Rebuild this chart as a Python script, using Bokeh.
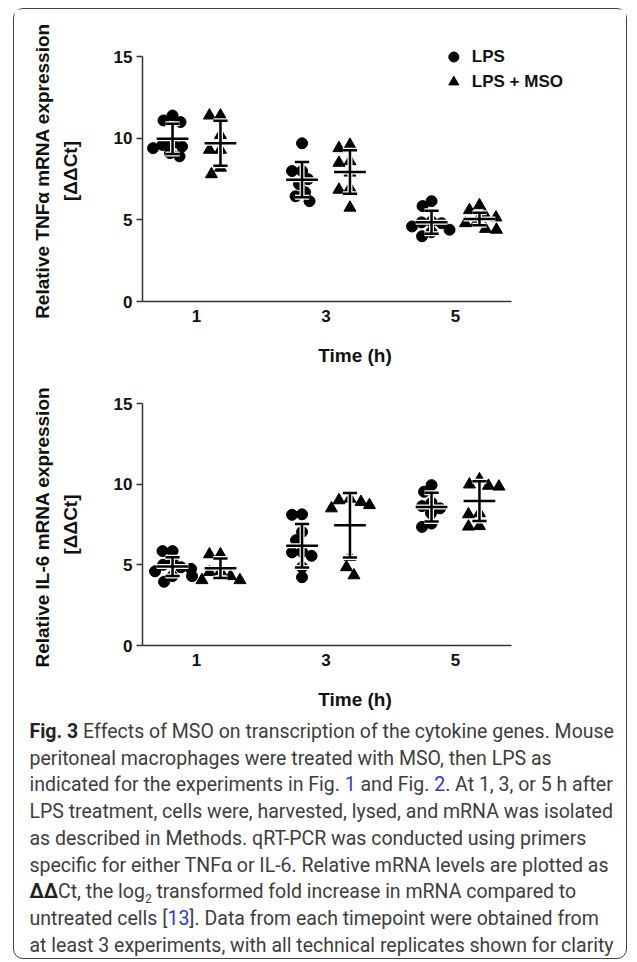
import numpy as np
from bokeh.plotting import figure
from bokeh.models import (ColumnDataSource, Legend, LegendItem, Title, FixedTicker,
                          Div, Range1d)
from bokeh.layouts import column
from bokeh.embed import file_html
from bokeh.resources import INLINE

# ---------------- data ----------------
times = [1, 3, 5]
tick_labels = ["1", "3", "5"]
group_names = ["LPS", "LPS + MSO"]

tnf_lps_1h = [11.1, 11.0, 11.4, 9.6, 9.4, 9.7, 8.9, 9.1, 9.5]
tnf_lps_3h = [9.7, 8.0, 8.0, 7.5, 7.2, 6.7, 6.45, 6.15]
tnf_lps_5h = [6.15, 5.85, 4.8, 4.85, 4.4, 4.0, 4.25, 4.6, 4.9]
tnf_mso_1h = [11.4, 11.4, 10.2, 9.3, 9.3, 7.8, 8.2]
tnf_mso_3h = [9.6, 9.4, 8.6, 8.5, 7.9, 6.95, 6.85, 5.75]
tnf_mso_5h = [5.6, 5.9, 4.8, 4.85, 4.4, 4.45, 5.3, 5.15]

tnf_lps_mean = [9.97, 7.47, 4.86]
tnf_lps_sd = [0.93, 1.08, 0.71]
tnf_mso_mean = [9.70, 7.94, 5.06]
tnf_mso_sd = [1.38, 1.33, 0.38]

il6_lps_1h = [5.85, 5.85, 5.2, 4.85, 4.75, 4.3, 4.3, 3.95, 4.6, 5.0]
il6_lps_3h = [8.13, 8.1, 7.04, 6.53, 5.77, 5.8, 5.56, 4.85, 4.23]
il6_lps_5h = [9.53, 9.94, 8.85, 8.64, 8.5, 7.35, 7.56, 8.2]
il6_mso_1h = [5.65, 5.65, 4.6, 4.55, 4.3, 4.05, 4.05]
il6_mso_3h = [8.9, 9.1, 8.5, 8.7, 9.0, 5.5, 4.85, 4.35]
il6_mso_5h = [9.98, 10.3, 9.85, 8.13, 8.2, 7.37, 7.4, 9.9]

il6_lps_mean = [4.89, 6.18, 8.58]
il6_lps_sd = [0.58, 1.35, 0.89]
il6_mso_mean = [4.79, 7.45, 8.95]
il6_mso_sd = [0.60, 2.00, 1.23]

y_ticks = [0, 5, 10, 15]

# ---------------- layout constants ----------------
FIG_W = 612
LEFT = 128
FRAME_W = 425
XPU = 64.75            # pixels per x unit
X0 = 0.166
X_AXIS_END = 5.865
X_END = X0 + FRAME_W / XPU
OFFSET = 0.37          # group offset from the time tick
FONT = "Liberation Sans"
TXT = "#111111"


def swarm(vals, ypu, diam):
    """deterministic beeswarm offsets (in x data units)"""
    vals = np.asarray(vals, dtype=float)
    order = np.argsort(-vals, kind="stable")
    placed = []
    offs = np.zeros(len(vals))
    cands = [0.0]
    for k in range(1, 40):
        cands += [-0.5 * k, 0.5 * k]
    for i in order:
        y = vals[i] * ypu
        for c in cands:
            if all((c - px) ** 2 + (y - py) ** 2 >= diam ** 2 for px, py in placed):
                break
        placed.append((c, y))
        offs[i] = c
    return offs / XPU


def make_fig(height, top, bottom, y_end, lps_sets, mso_sets, lps_mean, lps_sd,
             mso_mean, mso_sd, ylabel_outer, with_legend):
    frame_h = height - top - bottom
    ypu = frame_h / y_end
    p = figure(width=FIG_W, height=height, x_range=Range1d(X0, X_END),
               y_range=Range1d(0, y_end), min_border_left=LEFT,
               min_border_right=FIG_W - LEFT - FRAME_W, min_border_top=top,
               min_border_bottom=bottom, output_backend="svg",
               toolbar_location=None)
    p.outline_line_color = None
    p.xgrid.visible = False
    p.ygrid.visible = False
    p.background_fill_color = "white"

    renderers = []
    for sets, means, sds, marker, size, sign in (
            (lps_sets, lps_mean, lps_sd, "circle", 11, -1),
            (mso_sets, mso_mean, mso_sd, "triangle", 12, 1)):
        xs, ys = [], []
        for t, vals in zip(times, sets):
            offs = swarm(vals, ypu, size - 1)
            xs += list(t + sign * OFFSET + offs)
            ys += list(vals)
        src = ColumnDataSource(dict(x=xs, y=ys))
        r = p.scatter("x", "y", source=src, marker=marker, size=size,
                      fill_color="black", line_color="black")
        renderers.append(r)

        cx = [t + sign * OFFSET for t in times]
        m = np.array(means)
        s = np.array(sds)
        seg = dict(
            x0=cx + [c - 0.11 for c in cx] + [c - 0.11 for c in cx] + [c - 0.245 for c in cx],
            x1=cx + [c + 0.11 for c in cx] + [c + 0.11 for c in cx] + [c + 0.245 for c in cx],
            y0=list(m - s) + list(m + s) + list(m - s) + list(m),
            y1=list(m + s) + list(m + s) + list(m - s) + list(m),
        )
        ssrc = ColumnDataSource(seg)
        p.segment("x0", "y0", "x1", "y1", source=ssrc, line_color="white",
                  line_width=5, line_cap="butt")
        p.segment("x0", "y0", "x1", "y1", source=ssrc, line_color="black",
                  line_width=2.5, line_cap="butt")

    # axes
    xa = p.xaxis[0]
    xa.ticker = FixedTicker(ticks=times)
    xa.major_label_overrides = {t: l for t, l in zip(times, tick_labels)}
    xa.bounds = (X0, X_AXIS_END)
    xa.major_tick_out = 0
    xa.major_tick_in = 0
    xa.minor_tick_out = 0
    xa.minor_tick_in = 0
    xa.major_label_standoff = 8
    xa.axis_label = "Time (h)"
    xa.axis_label_standoff = 20

    ya = p.yaxis[0]
    ya.ticker = FixedTicker(ticks=y_ticks)
    ya.bounds = (0, 15)
    ya.major_tick_out = 6
    ya.major_tick_in = 0
    ya.minor_tick_out = 0
    ya.minor_tick_in = 0
    ya.major_label_standoff = 4
    ya.axis_label = "[\u0394\u0394Ct]"
    ya.axis_label_standoff = 30

    for ax in (xa, ya):
        ax.axis_line_color = "#333333"
        ax.axis_line_width = 1.5
        ax.major_tick_line_color = "#333333"
        ax.major_tick_line_width = 1.5
        ax.major_label_text_font = FONT
        ax.major_label_text_font_style = "bold"
        ax.major_label_text_font_size = "17px"
        ax.major_label_text_color = TXT
        ax.axis_label_text_font = FONT
        ax.axis_label_text_font_style = "bold"
        ax.axis_label_text_font_size = "19px"
        ax.axis_label_text_color = TXT

    t = Title(text=ylabel_outer, align="center", text_font=FONT,
              text_font_style="bold", text_font_size="19px",
              text_color=TXT, standoff=8)
    p.add_layout(t, "left")

    if with_legend:
        leg = Legend(items=[LegendItem(label=n, renderers=[r])
                            for n, r in zip(group_names, renderers)],
                     location="top_right", glyph_width=25, glyph_height=25,
                     spacing=-5, padding=4, margin=4, label_standoff=6,
                     label_text_font=FONT, label_text_font_style="bold",
                     label_text_font_size="17px", label_text_color=TXT,
                     border_line_color=None, background_fill_alpha=0)
        p.add_layout(leg, "center")
    return p


p1 = make_fig(366, 31, 74, 16,
              [tnf_lps_1h, tnf_lps_3h, tnf_lps_5h],
              [tnf_mso_1h, tnf_mso_3h, tnf_mso_5h],
              tnf_lps_mean, tnf_lps_sd, tnf_mso_mean, tnf_mso_sd,
              "Relative TNF\u03b1 mRNA expression", True)
p2 = make_fig(337, 28, 65, 15,
              [il6_lps_1h, il6_lps_3h, il6_lps_5h],
              [il6_mso_1h, il6_mso_3h, il6_mso_5h],
              il6_lps_mean, il6_lps_sd, il6_mso_mean, il6_mso_sd,
              "Relative  IL-6 mRNA expression", False)

BLUE = "#2b3bd6"
caption_lines = [
    '<b style="color:#222">Fig. 3</b> Effects of MSO on transcription of the cytokine genes. Mouse',
    'peritoneal macrophages were treated with MSO, then LPS as',
    f'indicated for the experiments in Fig. <span style="color:{BLUE}">1</span> and Fig. '
    f'<span style="color:{BLUE}">2</span>. At 1, 3, or 5 h after',
    'LPS treatment, cells were, harvested, lysed, and mRNA was isolated',
    'as described in Methods. qRT-PCR was conducted using primers',
    'specific for either TNF\u03b1 or IL-6. Relative mRNA levels are plotted as',
    '<b style="color:#222">\u0394\u0394</b>Ct, the log<sub style="font-size:12px; line-height:0">2</sub> '
    'transformed fold increase in mRNA compared to',
    f'untreated cells [<span style="color:{BLUE}">13</span>]. Data from each timepoint were obtained from',
    'at least 3 experiments, with all technical replicates shown for clarity',
]
cap_html = ('<div style="font-family:Roboto, sans-serif; font-size:19.5px; '
            'line-height:26.7px; color:#3d3d3d; white-space:nowrap; '
            'padding-top:7px; padding-left:15.5px;">'
            + "<br>".join(caption_lines) + "</div>")
cap = Div(text=cap_html, width=FIG_W, height=246, margin=0)

page = column(p1, p2, cap, margin=0,
              styles={"border": "1.5px solid #444",
                      "border-radius": "10px",
                      "margin-left": "13px",
                      "margin-top": "8px"})

open("out.html", "w").write(file_html(page, INLINE))
